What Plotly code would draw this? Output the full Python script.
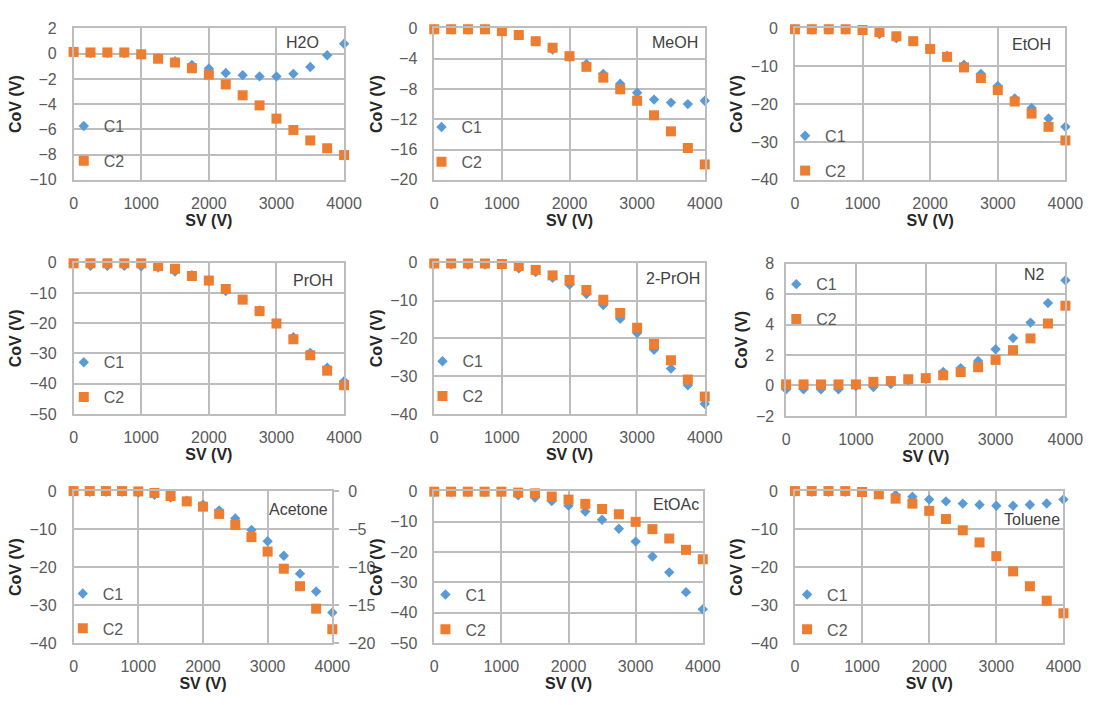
import plotly.graph_objects as go

W, H = 1104, 705

sv = [0, 250, 500, 750, 1000, 1250, 1500, 1750, 2000, 2250, 2500, 2750, 3000, 3250, 3500, 3750, 4000]

h2o_c1 = [0.1, 0.05, 0.05, 0.05, -0.05, -0.35, -0.6, -0.9, -1.17, -1.53, -1.7, -1.8, -1.8, -1.6, -1.05, -0.12, 0.79]
h2o_c2 = [0.14, 0.1, 0.1, 0.1, -0.05, -0.4, -0.7, -1.15, -1.66, -2.44, -3.3, -4.1, -5.15, -6.05, -6.88, -7.5, -8.04]

meoh_c1 = [-0.1, -0.1, -0.1, -0.1, -0.35, -0.9, -1.7, -2.8, -3.74, -4.7, -6.0, -7.3, -8.5, -9.4, -9.8, -10.0, -9.55]
meoh_c2 = [-0.1, -0.1, -0.1, -0.1, -0.35, -0.86, -1.68, -2.54, -3.66, -5.07, -6.5, -8.04, -9.55, -11.48, -13.6, -15.8, -17.98]

etoh_c1 = [-0.2, -0.2, -0.2, -0.3, -0.4, -1.45, -2.6, -3.4, -5.3, -7.2, -9.6, -12.0, -15.2, -18.5, -21.0, -23.8, -26.0]
etoh_c2 = [-0.2, -0.2, -0.2, -0.2, -0.4, -0.95, -2.06, -3.35, -5.4, -7.5, -10.3, -13.1, -16.3, -19.3, -22.5, -26.0, -29.6]

proh_c1 = [-0.3, -1.0, -1.0, -1.0, -1.2, -1.6, -2.9, -4.1, -6.1, -9.35, -12.2, -15.8, -20.1, -24.6, -29.8, -34.7, -39.2]
proh_c2 = [-0.2, -0.2, -0.2, -0.2, -0.2, -1.1, -2.0, -4.4, -5.9, -8.7, -12.2, -16.0, -20.1, -25.3, -30.6, -35.7, -40.5]

iproh_c1 = [-0.3, -0.4, -0.5, -0.5, -0.5, -1.5, -2.5, -4.0, -5.8, -8.3, -11.2, -14.8, -18.6, -23.0, -28.0, -32.4, -37.3]
iproh_c2 = [-0.2, -0.2, -0.2, -0.2, -0.35, -0.86, -1.9, -3.35, -4.56, -7.2, -9.8, -13.3, -17.2, -21.5, -25.8, -30.9, -35.4]

n2_c1 = [-0.25, -0.25, -0.25, -0.25, -0.03, -0.1, 0.1, 0.35, 0.46, 0.88, 1.14, 1.61, 2.38, 3.11, 4.13, 5.41, 6.91]
n2_c2 = [0.07, 0.07, 0.07, 0.07, 0.07, 0.24, 0.29, 0.41, 0.48, 0.67, 0.88, 1.2, 1.68, 2.32, 3.09, 4.07, 5.24]

acetone_c1 = [-0.2, -0.2, -0.2, -0.2, -0.4, -1.0, -1.7, -2.55, -3.6, -5.1, -7.2, -10.2, -13.2, -17.0, -21.7, -26.4, -31.9]
acetone_c2 = [0.0, 0.0, 0.0, 0.0, -0.1, -0.5, -1.3, -2.7, -4.1, -6.0, -8.9, -12.1, -15.9, -20.4, -25.0, -30.9, -36.3]

etoac_c1 = [-0.3, -0.3, -0.3, -0.3, -0.3, -1.4, -2.1, -3.3, -4.8, -6.7, -9.4, -12.4, -16.6, -21.5, -26.7, -33.2, -38.8]
etoac_c2 = [-0.2, -0.2, -0.2, -0.2, -0.2, -0.5, -0.75, -1.8, -2.8, -4.2, -5.9, -7.6, -10.1, -12.5, -15.6, -19.3, -22.4]

toluene_c1 = [-0.2, -0.2, -0.2, -0.2, -0.2, -0.7, -1.0, -1.5, -2.2, -2.7, -3.3, -3.6, -3.85, -3.85, -3.6, -3.25, -2.2]
toluene_c2 = [0.0, 0.0, 0.0, 0.0, -0.25, -0.85, -2.0, -3.3, -5.2, -7.35, -10.3, -13.5, -17.1, -21.1, -25.0, -28.8, -32.1]

labels = ["H2O", "MeOH", "EtOH", "PrOH", "2-PrOH", "N2", "Acetone", "EtOAc", "Toluene"]
c1_series = [h2o_c1, meoh_c1, etoh_c1, proh_c1, iproh_c1, n2_c1, acetone_c1, etoac_c1, toluene_c1]
c2_series = [h2o_c2, meoh_c2, etoh_c2, proh_c2, iproh_c2, n2_c2, acetone_c2, etoac_c2, toluene_c2]
y_ranges = [(-10, 2), (-20, 0), (-40, 0), (-50, 0), (-40, 0), (-2, 8), (-40, 0), (-50, 0), (-40, 0)]
y_dticks = [2, 4, 10, 10, 10, 2, 10, 10, 10]
acetone_right_range = (-20, 0)
acetone_right_dtick = 5
x_ticks = [0, 1000, 2000, 3000, 4000]

# layout geometry (pixels): left, right, top, bottom of each plot area
boxes = [
    (71, 347, 21, 176), (439, 715, 21, 176), (807, 1083, 21, 176),
    (71, 347, 261, 416), (439, 715, 261, 416), (798, 1083, 262, 418),
    (71, 335, 495, 651), (439, 713, 495, 651), (807, 1081, 495, 651),
]
label_pos = [(305, 35), (685, 35), (1048, 37), (315, 279), (683, 277), (1051, 273),
             (300, 514), (686, 509), (1049, 524)]
legend_pos = [(81, 139), (446, 140), (817, 149), (81, 381), (447, 380), (808, 301),
              (80, 618), (450, 619), (819, 619)]

BLUE = "#5B9BD5"
ORANGE = "#ED7D31"
GRID = "#BDBDBD"
FONT = "Liberation Sans, Arial, sans-serif"
TICKC = "#595959"
TITLEC = "#262626"

fig = go.Figure()
layout = dict(
    width=W, height=H, margin=dict(l=0, r=0, t=0, b=0),
    paper_bgcolor="white", plot_bgcolor="rgba(0,0,0,0)",
    font=dict(family=FONT, size=16, color=TICKC),
    showlegend=True,
)
annotations = []

for i in range(9):
    k = i + 1
    xa = "x" if k == 1 else f"x{k}"
    ya = "y" if k == 1 else f"y{k}"
    lg = "legend" if k == 1 else f"legend{k}"
    fig.add_trace(go.Scatter(
        x=sv, y=c1_series[i], mode="markers", name="C1",
        marker=dict(symbol="diamond", size=8, color=BLUE, line=dict(width=0)),
        xaxis=xa, yaxis=ya, legend=lg, legendgroup=f"c1_{k}", cliponaxis=False))
    fig.add_trace(go.Scatter(
        x=sv, y=c2_series[i], mode="markers", name="C2",
        marker=dict(symbol="square", size=10, color=ORANGE, line=dict(width=0)),
        xaxis=xa, yaxis=ya, legend=lg, legendgroup=f"c2_{k}", cliponaxis=False))

    l, r, t, b = boxes[i]
    axkey = "" if k == 1 else str(k)
    layout[f"xaxis{axkey}"] = dict(
        domain=[l / W, r / W], anchor=ya, range=[0, 4000],
        tickvals=x_ticks, showgrid=True, gridcolor=GRID, gridwidth=1.5,
        zeroline=False, showline=True, linecolor=GRID, linewidth=1.5, mirror=True,
        ticks="", ticklabelstandoff=8,
        tickfont=dict(size=16, color=TICKC, family=FONT),
        title=dict(text="<b>SV (V)</b>", font=dict(size=16, color=TITLEC, family=FONT), standoff=2),
    )
    lo, hi = y_ranges[i]
    layout[f"yaxis{axkey}"] = dict(
        domain=[1 - b / H, 1 - t / H], anchor=xa, range=[lo, hi], dtick=y_dticks[i],
        tick0=0, showgrid=True, gridcolor=GRID, gridwidth=1.5,
        zeroline=False, showline=True, linecolor=GRID, linewidth=1.5, mirror=True,
        ticks="", ticklabelstandoff=(7 if k == 6 else 12),
        tickfont=dict(size=16, color=TICKC, family=FONT),
        title=dict(text="<b>CoV (V)</b>", font=dict(size=16, color=TITLEC, family=FONT), standoff=4),
    )
    lx, ly = legend_pos[i]
    layout[lg] = dict(
        x=(lx - 20) / W, y=1 - ly / H, xanchor="left", yanchor="middle",
        xref="paper", yref="paper",
        bgcolor="rgba(0,0,0,0)", borderwidth=0, tracegroupgap=11,
        font=dict(size=16, color=TICKC, family=FONT),
        itemclick=False,
    )
    ax_, ay_ = label_pos[i]
    annotations.append(dict(
        x=ax_ / W, y=1 - ay_ / H, xref="paper", yref="paper",
        text=labels[i], showarrow=False, xanchor="center", yanchor="middle",
        font=dict(size=16, color="#404040", family=FONT)))

# secondary right axis for Acetone panel (own hidden x axis, no overlay)
fig.add_trace(go.Scatter(x=[], y=[], xaxis="x10", yaxis="y10", showlegend=False))
l, r, t, b = boxes[6]
layout["xaxis10"] = dict(domain=[l / W, r / W], anchor="y10", range=[0, 4000], visible=False)
layout["yaxis10"] = dict(
    domain=[1 - b / H, 1 - t / H], anchor="x10", side="right",
    range=list(acetone_right_range), dtick=acetone_right_dtick, tick0=0,
    showgrid=False, zeroline=False, showline=True, linecolor=GRID, linewidth=1.5,
    ticks="outside", ticklen=5, tickcolor=GRID, tickwidth=1.5, ticklabelstandoff=6,
    tickfont=dict(size=16, color=TICKC, family=FONT),
)

layout["annotations"] = annotations
fig.update_layout(**layout)
fig.write_html("out.html")
